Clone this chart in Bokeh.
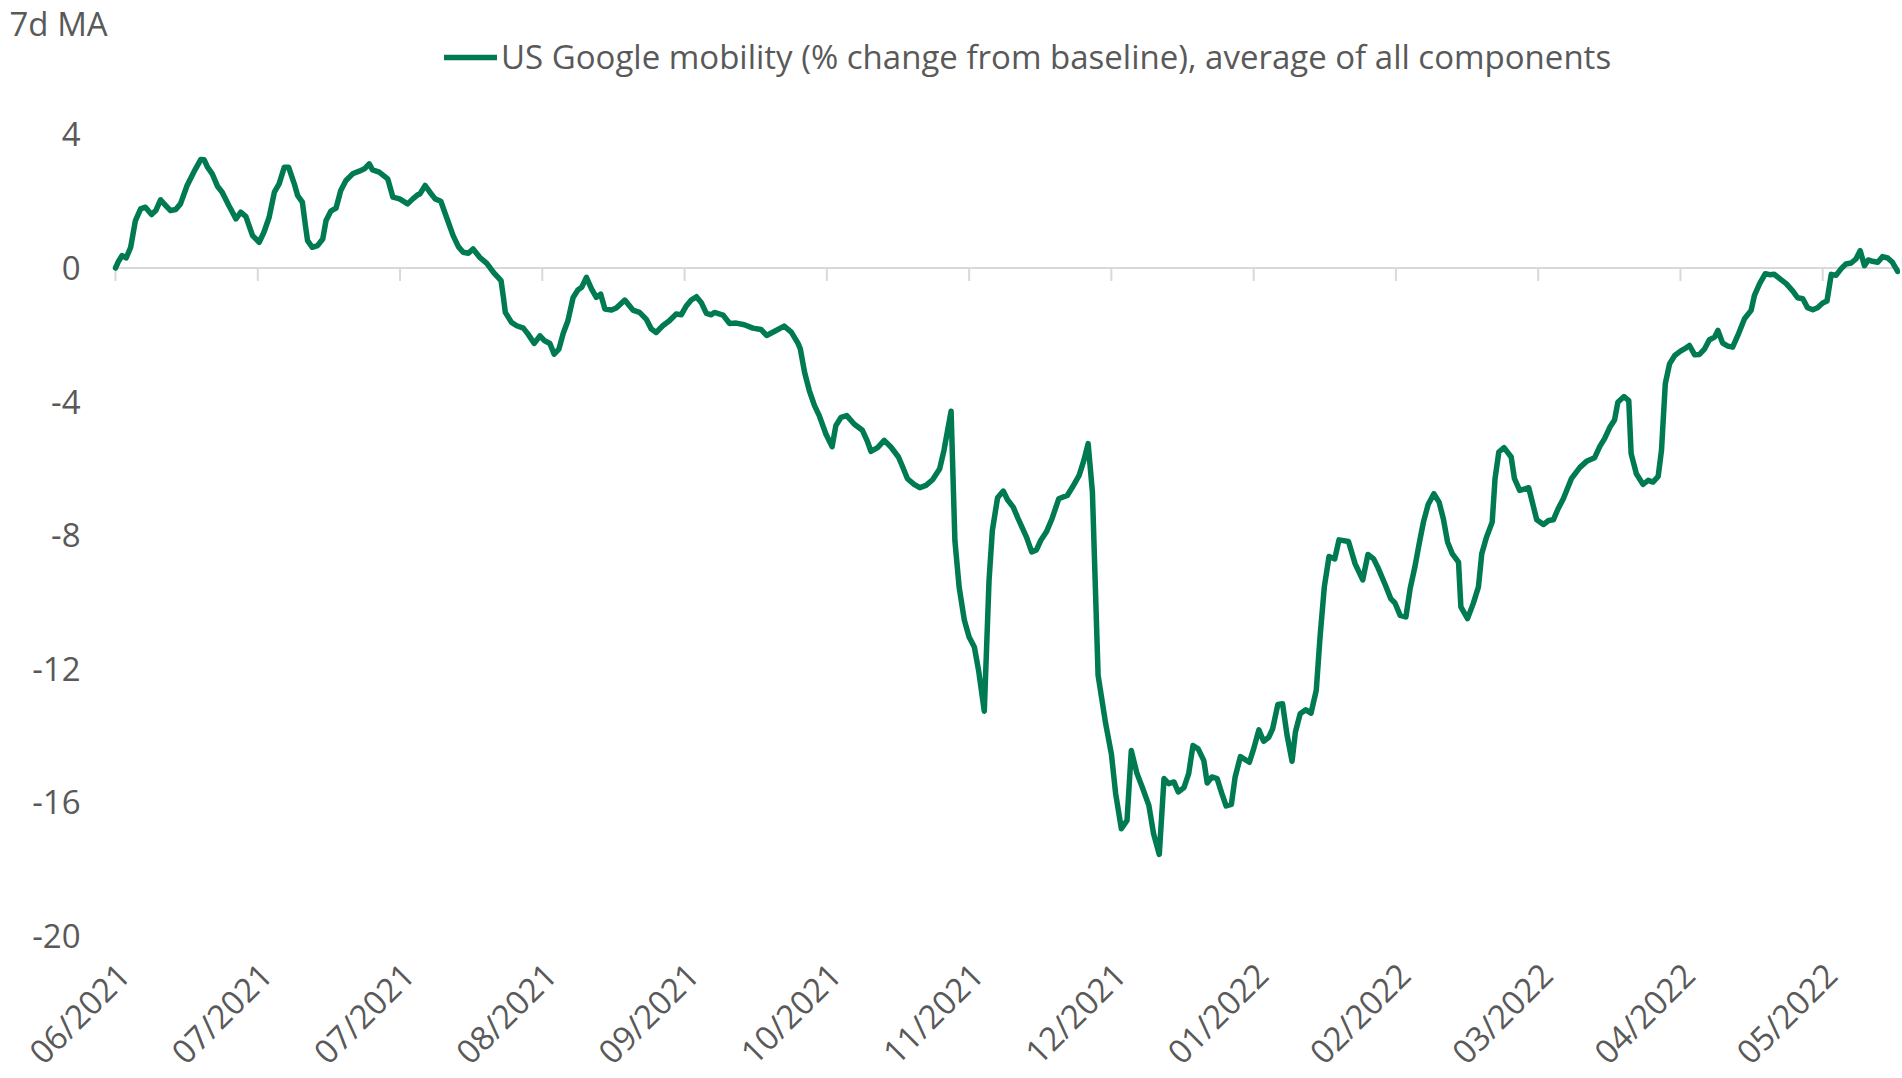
import math
from bokeh.plotting import figure
from bokeh.models import Legend, LegendItem, Range1d, Label
from bokeh.core.properties import value
from bokeh.embed import file_html
from bokeh.resources import INLINE

# ---------------- data ----------------
start_date = "2021-06-01"   # day 0 of the series
series_name = "US Google mobility (% change from baseline), average of all components"
unit_label = "7d MA"

days = [
    0, 0.7, 1.4, 2.25, 3.2, 4.2, 5.3, 6.3, 7.6, 8.5, 9.5, 10.6, 11.6, 12.7, 13.7, 15.1, 16.5, 18.0, 18.7, 19.4,
    20.4, 21.5, 22.5, 23.9, 25.4, 26.4, 27.5, 28.9, 30.3, 31.3, 32.4, 33.5, 34.5, 35.6, 36.5, 37.7, 38.4, 39.4,
    40.1, 40.5, 41.5, 42.6, 43.7, 44.4, 45.4, 46.5, 47.5, 48.6, 50.0, 51.4, 52.5, 53.5, 54.2, 55.6, 57.4, 58.5,
    59.9, 61.6, 62.7, 63.7, 64.2, 65.3, 66.3, 67.4, 68.6, 69.8, 71.2, 72.3, 73.3, 74.4, 75.4, 76.8, 78.3, 79.7,
    81.3, 81.8, 82.2, 83.5, 84.6, 86.0, 87.0, 88.3, 89.5, 90.5, 91.6, 92.5, 93.5, 94.4, 95.4, 96.5, 97.5, 98.3,
    99.3, 100.4, 101.4, 102.3, 103.2, 104.6, 105.6, 107.4, 109.1, 110.5, 111.9, 113.0, 114.0, 115.4, 116.8,
    118.2, 119.3, 120.4, 121.4, 122.5, 123.5, 124.6, 125.6, 126.3, 128.1, 129.5, 130.9, 132.6, 134.4, 136.1,
    137.3, 139.3, 141.0, 142.5, 143.9, 144.4, 145.3, 146.3, 147.4, 148.4, 149.8, 151.1, 151.9, 153.0, 154.2,
    155.8, 157.5, 158.6, 159.3, 160.7, 162.1, 163.5, 165.1, 166.0, 167.0, 168.4, 169.6, 170.9, 172.3, 173.8,
    174.7, 176.2, 177.0, 177.9, 179.0, 180.0, 181.1, 182.0, 183.2, 184.2, 184.9, 186.0, 187.2, 188.1, 189.3,
    190.5, 192.1, 193.2, 194.2, 195.1, 196.3, 197.5, 198.9, 200.7, 201.8, 203.2, 204.2, 205.1, 206.0, 207.2,
    208.8, 210.0, 210.9, 212.1, 213.3, 214.2, 215.4, 216.5, 217.9, 218.9, 220.1, 221.1, 222.1, 223.2, 224.1,
    225.3, 226.3, 227.2, 228.3, 229.5, 230.2, 231.2, 232.3, 233.3, 234.2, 235.3, 236.1, 237.2, 239.1, 240.0,
    241.1, 242.1, 243.2, 244.0, 245.1, 246.1, 247.0, 248.1, 248.8, 249.8, 251.0, 252.1, 253.2, 254.0, 254.9,
    255.9, 257.1, 258.0, 260.0, 261.4, 263.0, 264.1, 265.3, 266.3, 267.7, 268.9, 269.8, 270.9, 272.1, 273.0,
    274.0, 274.9, 275.8, 276.8, 278.0, 279.1, 280.0, 280.9, 281.9, 283.2, 283.7, 285.1, 286.3, 287.4, 288.1,
    289.1, 290.3, 290.9, 291.7, 292.8, 294.3, 295.0, 296.1, 298.0, 299.7, 301.1, 302.2, 303.2, 304.2, 305.3,
    307.0, 308.8, 310.2, 311.9, 313.0, 314.0, 315.1, 316.1, 316.8, 318.1, 319.1, 319.6, 320.7, 322.1, 323.2,
    324.2, 325.3, 326.0, 326.8, 327.7, 328.8, 330.0, 331.2, 331.9, 333.0, 334.0, 335.1, 336.1, 337.2, 337.9,
    338.9, 340.0, 341.0, 342.1, 343.5, 344.9, 345.6, 346.7, 347.9, 348.8, 349.8, 351.2, 352.3, 353.7, 354.7,
    355.8, 356.8, 357.9, 358.9, 360.0, 360.9, 361.8, 362.8, 363.9, 364.9, 366.0, 367.0, 367.9, 368.8, 369.6,
    370.5, 371.6, 372.6, 373.7, 374.7, 375.8,
]

mobility = [
    0.0, 0.22, 0.37, 0.3, 0.62, 1.42, 1.77, 1.82, 1.6, 1.72, 2.04, 1.87, 1.72, 1.75, 1.92, 2.47, 2.87, 3.25, 3.24, 3.02,
    2.82, 2.45, 2.27, 1.87, 1.47, 1.67, 1.54, 0.97, 0.77, 1.07, 1.52, 2.27, 2.52, 3.02, 3.02, 2.52, 2.17, 1.97,
    1.22, 0.82, 0.62, 0.67, 0.87, 1.42, 1.7, 1.79, 2.32, 2.62, 2.82, 2.9, 2.97, 3.12, 2.94, 2.87, 2.67, 2.12,
    2.07, 1.92, 2.07, 2.19, 2.22, 2.47, 2.27, 2.07, 2.0, 1.52, 0.97, 0.64, 0.47, 0.44, 0.57, 0.32, 0.14, -0.13,
    -0.38, -0.88, -1.33, -1.63, -1.73, -1.8, -1.98, -2.26, -2.03, -2.18, -2.26, -2.58, -2.43, -1.96, -1.58, -0.88, -0.66, -0.58,
    -0.28, -0.63, -0.88, -0.78, -1.23, -1.26, -1.2, -0.96, -1.26, -1.33, -1.53, -1.83, -1.93, -1.73, -1.58,
    -1.38, -1.4, -1.13, -0.96, -0.86, -1.03, -1.36, -1.4, -1.33, -1.41, -1.66, -1.65, -1.7, -1.8, -1.84,
    -2.02, -1.87, -1.74, -1.92, -2.25, -2.42, -3.12, -3.67, -4.12, -4.42, -4.97, -5.35, -4.72, -4.47, -4.42,
    -4.68, -4.86, -5.21, -5.49, -5.38, -5.16, -5.36, -5.66, -5.96, -6.31, -6.48, -6.58, -6.51, -6.34, -6.01,
    -5.46, -4.29, -8.16, -9.56, -10.55, -11.05, -11.35, -12.05, -13.27, -9.36, -7.86, -6.88, -6.68, -6.94, -7.16,
    -7.56, -8.06, -8.5, -8.44, -8.16, -7.9, -7.5, -6.91, -6.81, -6.56, -6.21, -5.76, -5.26, -6.71, -12.2,
    -13.65, -14.55, -15.74, -16.79, -16.54, -14.45, -15.14, -15.54, -16.09, -16.94, -17.56, -15.29, -15.44, -15.39, -15.69,
    -15.56, -15.14, -14.3, -14.4, -14.75, -15.42, -15.24, -15.29, -15.74, -16.11, -16.06, -15.24, -14.63, -14.8, -14.4,
    -13.83, -14.17, -14.05, -13.8, -13.07, -13.05, -13.95, -14.77, -13.9, -13.35, -13.23, -13.33, -12.65, -11.05, -9.55,
    -8.64, -8.71, -8.14, -8.19, -8.86, -9.34, -8.58, -8.71, -9.0, -9.47, -9.9, -10.03, -10.4, -10.45, -9.6,
    -8.95, -8.26, -7.61, -7.08, -6.76, -7.01, -7.51, -8.21, -8.56, -8.81, -10.15, -10.5, -10.05, -9.55, -8.56,
    -8.06, -7.61, -6.31, -5.51, -5.38, -5.66, -6.31, -6.66, -6.58, -7.54, -7.68, -7.56, -7.54, -7.21, -6.91,
    -6.31, -5.97, -5.79, -5.68, -5.34, -5.11, -4.77, -4.55, -4.02, -3.85, -3.97, -5.56, -6.16, -6.48, -6.36,
    -6.41, -6.24, -5.46, -3.47, -2.87, -2.62, -2.49, -2.39, -2.32, -2.6, -2.59, -2.42, -2.15, -2.07, -1.87,
    -2.25, -2.34, -2.37, -2.02, -1.52, -1.27, -0.82, -0.47, -0.17, -0.2, -0.19, -0.35, -0.47, -0.69, -0.89,
    -0.92, -1.19, -1.25, -1.19, -1.05, -0.99, -0.19, -0.22, -0.02, 0.12, 0.15, 0.27, 0.52, 0.07, 0.24,
    0.2, 0.17, 0.34, 0.3, 0.17, -0.1,
]

tick_days = [0, 30, 60, 90, 120, 150, 180, 210, 240, 270, 300, 330, 360]
tick_labels = ["06/2021", "07/2021", "07/2021", "08/2021", "09/2021", "10/2021", "11/2021",
               "12/2021", "01/2022", "02/2022", "03/2022", "04/2022", "05/2022"]
y_ticks = [4, 0, -4, -8, -12, -16, -20]
y_tick_labels = ["4", "0", "-4", "-8", "-12", "-16", "-20"]

# ---------------- style ----------------
GREEN = "#007A53"
GREY_TXT = "#595959"
GRID = "#D9D9D9"
FONT = "Open Sans"
FS = "33px"

W, H = 1900, 1076
X0, X1 = -24.25, 376.4      # visible day range (frame spans the whole canvas)
Y0, Y1 = -24.21, 8.01       # visible value range

p = figure(width=W, height=H, output_backend="svg", toolbar_location=None,
           x_range=Range1d(X0, X1), y_range=Range1d(Y0, Y1),
           min_border=0, x_axis_type=None, y_axis_type=None)
p.outline_line_color = None
p.xgrid.visible = False
p.ygrid.visible = False
p.background_fill_color = "white"
p.border_fill_color = "white"

# zero line (category axis line) and its tick marks
p.ray(x=[tick_days[0]], y=[0], length=0, angle=0, line_color=GRID, line_width=2)
p.ray(x=tick_days, y=[0] * len(tick_days), length=13, length_units="screen",
      angle=-math.pi / 2, line_color=GRID, line_width=2)

# series
r = p.line(days, mobility, line_color=GREEN, line_width=5.5, line_join="round", line_cap="round")

# y tick labels (value axis)
p.text(x=[tick_days[0]] * len(y_ticks), y=y_ticks, text=y_tick_labels,
       x_offset=-35, text_align="right", text_baseline="middle",
       text_font=value(FONT), text_font_size=FS, text_color=GREY_TXT)

# x tick labels (rotated 45°, low position)
p.text(x=tick_days, y=[y_ticks[-1]] * len(tick_days), text=tick_labels,
       x_offset=8, y_offset=33, angle=math.pi / 4, text_align="right", text_baseline="middle",
       text_font=value(FONT), text_font_size=FS, text_color=GREY_TXT)

# unit label, top left
p.add_layout(Label(x=9, y=H - 23, x_units="screen", y_units="screen", text=unit_label,
                   text_font=FONT, text_font_size=FS, text_color=GREY_TXT,
                   text_baseline="alphabetic", text_align="left"))

legend = Legend(items=[LegendItem(label=series_name, renderers=[r])],
                location=(444, H - 79), orientation="horizontal",
                glyph_width=53, glyph_height=34, label_height=34, label_standoff=4,
                padding=0, margin=0, border_line_color=None, background_fill_alpha=0,
                label_text_font=FONT, label_text_font_size=FS, label_text_color=GREY_TXT)
p.add_layout(legend, "center")

open("out.html", "w").write(file_html(p, INLINE))
